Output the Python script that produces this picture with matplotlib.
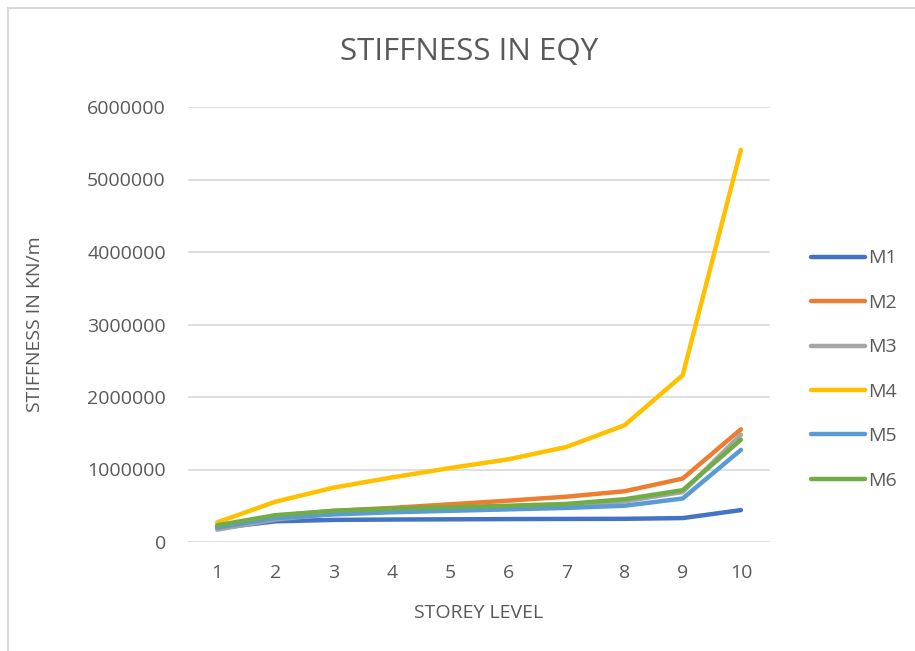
import matplotlib
matplotlib.use("Agg")
import matplotlib.pyplot as plt
from matplotlib.lines import Line2D

plt.rcParams["font.family"] = ["Open Sans", "DejaVu Sans"]

storeys = [1, 2, 3, 4, 5, 6, 7, 8, 9, 10]
m1 = [190000, 285000, 305000, 310000, 313000, 316000, 318000, 320000, 330000, 440000]
m2 = [200000, 360000, 430000, 470000, 520000, 570000, 625000, 700000, 875000, 1555000]
m3 = [170000, 310000, 390000, 430000, 460000, 480000, 505000, 560000, 690000, 1480000]
m4 = [270000, 555000, 750000, 890000, 1020000, 1140000, 1310000, 1610000, 2300000, 5410000]
m5 = [200000, 330000, 380000, 410000, 430000, 450000, 470000, 500000, 600000, 1270000]
m6 = [230000, 370000, 430000, 460000, 480000, 500000, 525000, 590000, 715000, 1410000]

series = {"M1": m1, "M2": m2, "M3": m3, "M4": m4, "M5": m5, "M6": m6}
colors = {"M1": "#4472C4", "M2": "#ED7D31", "M3": "#A5A5A5",
          "M4": "#FFC000", "M5": "#5B9BD5", "M6": "#70AD47"}

TEXT = "#595959"
GRID = "#D9D9D9"

fig = plt.figure(figsize=(9.15, 6.51), dpi=100)
ax = fig.add_axes([188 / 915, 1 - 542 / 651, (770 - 188) / 915, (542 - 107) / 651])

for name, vals in series.items():
    ax.plot(storeys, vals, color=colors[name], linewidth=3.2,
            solid_capstyle="round", solid_joinstyle="round", label=name)

ax.set_xlim(0.5, 10.5)
ax.set_ylim(0, 6000000)
ax.set_yticks(range(0, 6000001, 1000000))
ax.set_yticklabels([str(v) for v in range(0, 6000001, 1000000)])
ax.set_xticks(storeys)
ax.grid(axis="y", color=GRID, linewidth=1.2)
ax.set_axisbelow(True)
for s in ax.spines.values():
    s.set_visible(False)
ax.tick_params(length=0, labelsize=14, labelcolor=TEXT)
ax.tick_params(axis="y", pad=16)
ax.tick_params(axis="x", pad=16)

ax.set_xlabel("STOREY LEVEL", fontsize=14, color=TEXT, labelpad=16)
ax.set_ylabel("STIFFNESS IN KN/m", fontsize=14, color=TEXT, labelpad=31)
fig.text(469 / 915, 1 - 52 / 651, "STIFFNESS IN EQY", fontsize=22.5,
         color=TEXT, ha="center", va="center")

leg = ax.legend(loc="upper left", bbox_to_anchor=(793 / 915, 1 - 232 / 651),
                bbox_transform=fig.transFigure, frameon=False, fontsize=14,
                handlelength=2.8, handletextpad=0.15, labelspacing=1.36,
                labelcolor=TEXT)

# chart area border (left and top edges visible)
fig.add_artist(Line2D([8 / 915, 8 / 915], [0, 1 - 8 / 651], color=GRID,
                      linewidth=1.5, transform=fig.transFigure))
fig.add_artist(Line2D([8 / 915, 1], [1 - 8 / 651, 1 - 8 / 651], color=GRID,
                      linewidth=1.5, transform=fig.transFigure))

fig.savefig("out.png", dpi=100, facecolor="white")
